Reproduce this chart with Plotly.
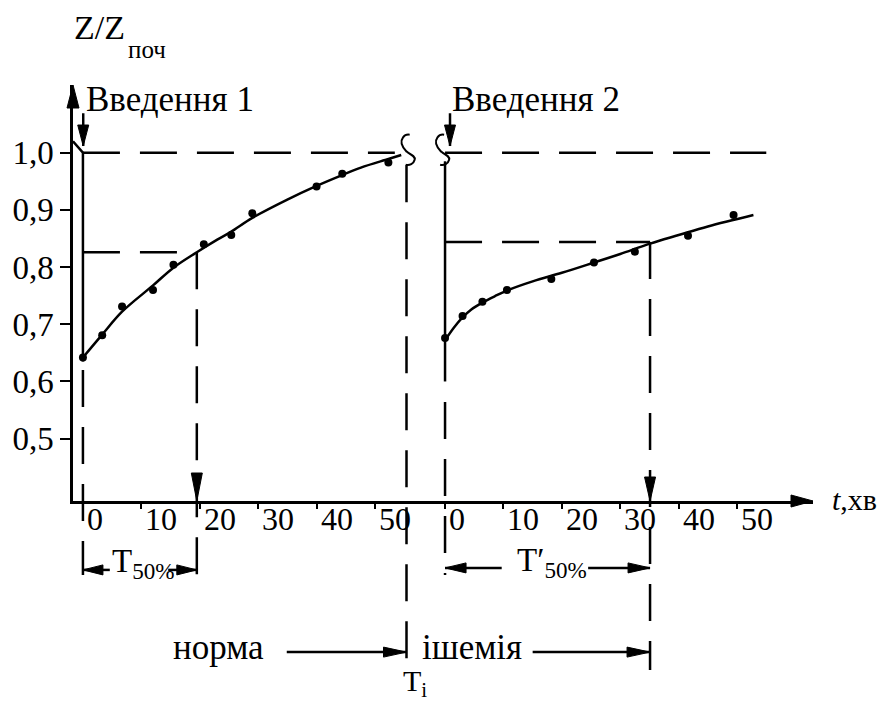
import plotly.graph_objects as go

# ---------------- data ----------------
# panel 1: normal state (t in minutes after injection 1)
t1_points = [0, 3.3, 6.7, 12.0, 15.5, 20.7, 25.4, 29.0, 40.0, 44.4, 52.3]
z1_points = [0.642, 0.681, 0.731, 0.760, 0.804, 0.840, 0.856, 0.894, 0.941, 0.963, 0.983]
t1_curve = [0, 3.3, 6.7, 12.0, 15.5, 19.5, 23.0, 25.4, 29.0, 35.0, 40.0, 44.4, 47.6, 52.3, 54.5]
z1_curve = [0.642, 0.682, 0.722, 0.768, 0.799, 0.826, 0.848, 0.862, 0.886, 0.918, 0.942, 0.961, 0.974, 0.989, 0.996]
t1_pre = [-1.7, 0, 0]
z1_pre = [1.02, 1.0, 0.635]

# panel 2: ischemia (t in minutes after injection 2)
t2_points = [0, 3.0, 6.4, 10.6, 18.2, 25.5, 32.5, 41.6, 49.4]
z2_points = [0.676, 0.7145, 0.7395, 0.760, 0.779, 0.808, 0.827, 0.855, 0.891]
t2_curve = [0, 1.5, 3.0, 4.5, 6.4, 8.5, 10.6, 15.0, 20.0, 25.5, 30.0, 35.1, 40.0, 45.0, 52.8]
z2_curve = [0.672, 0.694, 0.712, 0.726, 0.738, 0.749, 0.759, 0.775, 0.790, 0.808, 0.823, 0.841, 0.856, 0.871, 0.891]
t2_pre = [0, 0]
z2_pre = [0.985, 0.60]

T50_1, Z50_1 = 19.5, 0.826   # T50%
T50_2, Z50_2 = 35.1, 0.844   # T'50%
T_I = 55.4                   # moment of ischemia (panel-1 time)
OFFSET = 62.0                # where panel 2 starts on the common time axis

x_ticks = [0, 10, 20, 30, 40, 50]
y_ticks = [0.5, 0.6, 0.7, 0.8, 0.9, 1.0]
y_ticktext = ["0,5", "0,6", "0,7", "0,8", "0,9", "1,0"]

# ---------------- layout constants ----------------
X0, X1 = -1.7, 125.0
Y0, Y1 = 0.391, 1.1184
FONT = "Liberation Serif, Times New Roman, serif"
DASH = "37px,20px"
LW = 2.5

def yp(v):
    return (v - Y0) / (Y1 - Y0)

def xp(u):
    return (u - X0) / (X1 - X0)

fig = go.Figure()

def line(x, y, dash=None, shape="linear"):
    fig.add_trace(go.Scatter(x=x, y=y, mode="lines", line_shape=shape,
                             line=dict(color="black", width=LW, dash=dash),
                             hoverinfo="skip", showlegend=False))

def dots(x, y):
    fig.add_trace(go.Scatter(x=x, y=y, mode="markers",
                             marker=dict(color="black", size=8),
                             showlegend=False, cliponaxis=False))

# panel 1
line(t1_pre, z1_pre)
line(t1_curve, z1_curve, shape="spline")
dots(t1_points, z1_points)
line([0, 53.4], [1.0, 1.0], dash=DASH)
line([0, T50_1], [Z50_1, Z50_1], dash=DASH)

# panel 2
line([OFFSET + t for t in t2_pre], z2_pre)
line([OFFSET + t for t in t2_curve], z2_curve, shape="spline")
dots([OFFSET + t for t in t2_points], z2_points)
line([OFFSET, OFFSET + 55], [1.0, 1.0], dash=DASH)
line([OFFSET, OFFSET + T50_2], [Z50_2, Z50_2], dash=DASH)

shapes = []

def vdash(x, ya, yb):
    shapes.append(dict(type="line", xref="x", yref="paper", x0=x, x1=x,
                       y0=yp(ya), y1=yp(yb),
                       line=dict(color="black", width=LW, dash=DASH)))

def seg(x0, y0, x1, y1, xref="x"):
    shapes.append(dict(type="line", xref=xref, yref="paper", x0=x0, x1=x1,
                       y0=yp(y0), y1=yp(y1), line=dict(color="black", width=LW)))

def head(x, y, direction, length=22, width=11, xref="x", ypaper=None):
    h = width / 2.0
    if direction == "up":
        p = f"M 0,0 L {-h},{-length} L {h},{-length} Z"
    elif direction == "down":
        p = f"M 0,0 L {-h},{length} L {h},{length} Z"
    elif direction == "right":
        p = f"M 0,0 L {-length},{h} L {-length},{-h} Z"
    else:
        p = f"M 0,0 L {length},{h} L {length},{-h} Z"
    shapes.append(dict(type="path", xref=xref, yref="paper",
                       xsizemode="pixel", ysizemode="pixel",
                       xanchor=x, yanchor=(yp(y) if ypaper is None else ypaper),
                       path=p, fillcolor="black", line=dict(color="black", width=1)))

def brk(x):
    p = "M 2,18 C -4,19 -7,13 -6,9 C -5,5 -3,3 -1,1 C 4,-2 8,-4 7,-7 C 6,-11 2,-13 -2,-12"
    shapes.append(dict(type="path", xref="x", yref="paper",
                       xsizemode="pixel", ysizemode="pixel",
                       xanchor=x, yanchor=yp(1.0), path=p,
                       line=dict(color="black", width=2)))

ROW_T50 = 0.2705
ROW_T50b = 0.274
ROW_PHASE = 0.1268
BOTTOM_T50 = 0.2617
BOTTOM_LONG = 0.0955

# vertical dashed guides
vdash(0, 0.62, BOTTOM_T50)
vdash(T50_1, Z50_1, BOTTOM_T50)
vdash(T_I, 0.978, BOTTOM_LONG)
vdash(OFFSET, 0.564, BOTTOM_T50)
vdash(OFFSET + T50_2, Z50_2, BOTTOM_LONG)

# axis arrows
head(0, None, "up", length=23, width=12, xref="paper", ypaper=1.0)
head(1, None, "right", length=22, width=12, xref="paper", ypaper=0.0)

# injection arrows
for xa in (0.05, OFFSET + 0.85):
    seg(xa, 1.069, xa, 1.0117)
    head(xa, 1.0117, "down", length=21, width=11)

# arrows onto the time axis
head(T50_1, Y0, "down", length=28, width=11)
head(OFFSET + T50_2, Y0, "down", length=24, width=11)

# T50 dimension arrows
seg(4.6, ROW_T50, 0, ROW_T50)
head(0, ROW_T50, "left", length=20, width=10)
seg(14.6, ROW_T50, T50_1, ROW_T50)
head(T50_1, ROW_T50, "right", length=20, width=10)
seg(71.7, ROW_T50b, OFFSET, ROW_T50b)
head(OFFSET, ROW_T50b, "left", length=21, width=10)
seg(86.5, ROW_T50b, OFFSET + T50_2, ROW_T50b)
head(OFFSET + T50_2, ROW_T50b, "right", length=22, width=10)

# phase arrows
seg(34.9, ROW_PHASE, T_I, ROW_PHASE)
head(T_I, ROW_PHASE, "right", length=23, width=10)
seg(77.0, ROW_PHASE, OFFSET + T50_2, ROW_PHASE)
head(OFFSET + T50_2, ROW_PHASE, "right", length=23, width=10)

# axis breaks
brk(T_I + 0.2)
brk(OFFSET - 0.5)

ann = []

def txt(x, y, s, size=33, xanchor="left", yanchor="middle", **kw):
    ann.append(dict(x=xp(x), y=yp(y), xref="paper", yref="paper", text=s,
                    showarrow=False, xanchor=xanchor, yanchor=yanchor,
                    font=dict(family=FONT, size=size, color="black"), **kw))

txt(0.17, 1.0939, "Введення 1", size=35)
txt(OFFSET + 0.84, 1.0939, "Введення 2", size=35)
txt(-1.88, 1.219, "Z/Z", size=34)
txt(7.36, 1.181, "поч", size=25)
txt(127.9, 0.3935, "<i>t</i>,хв", size=30)

for base in (0, OFFSET):
    for v in x_ticks:
        ann.append(dict(x=base + v, y=0, xref="x", yref="paper", text=str(v),
                        showarrow=False, xanchor="left", yanchor="top",
                        xshift=2, yshift=2,
                        font=dict(family=FONT, size=32, color="black")))

txt(4.62, 0.282, "T<sub>50%</sub>", size=33)
txt(73.97, 0.284, "T′<sub>50%</sub>", size=33)
txt(15.07, 0.134, "норма", size=35)
txt(57.7, 0.134, "ішемія", size=35)
txt(54.5, 0.0725, "T<sub>i</sub>", size=30)

fig.update_layout(
    width=879, height=706,
    margin=dict(l=73, r=66, t=85, b=205, pad=0),
    paper_bgcolor="white", plot_bgcolor="white",
    shapes=shapes, annotations=ann,
    font=dict(family=FONT, color="black"),
    xaxis=dict(range=[X0, X1], showgrid=False, zeroline=False,
               showline=True, linecolor="black", linewidth=LW,
               tickmode="array",
               tickvals=x_ticks + [OFFSET + v for v in x_ticks],
               ticks="outside", ticklen=5, tickwidth=1.5, tickcolor="black",
               showticklabels=False, fixedrange=True),
    yaxis=dict(range=[Y0, Y1], showgrid=False, zeroline=False,
               showline=True, linecolor="black", linewidth=LW,
               tickmode="array", tickvals=y_ticks, ticktext=y_ticktext,
               ticks="outside", ticklen=10, tickwidth=2, tickcolor="black",
               tickfont=dict(family=FONT, size=33, color="black"),
               fixedrange=True),
)

fig.write_html("out.html", config={"displayModeBar": False},
               post_script="document.body.style.margin='0';document.body.style.padding='0';")
